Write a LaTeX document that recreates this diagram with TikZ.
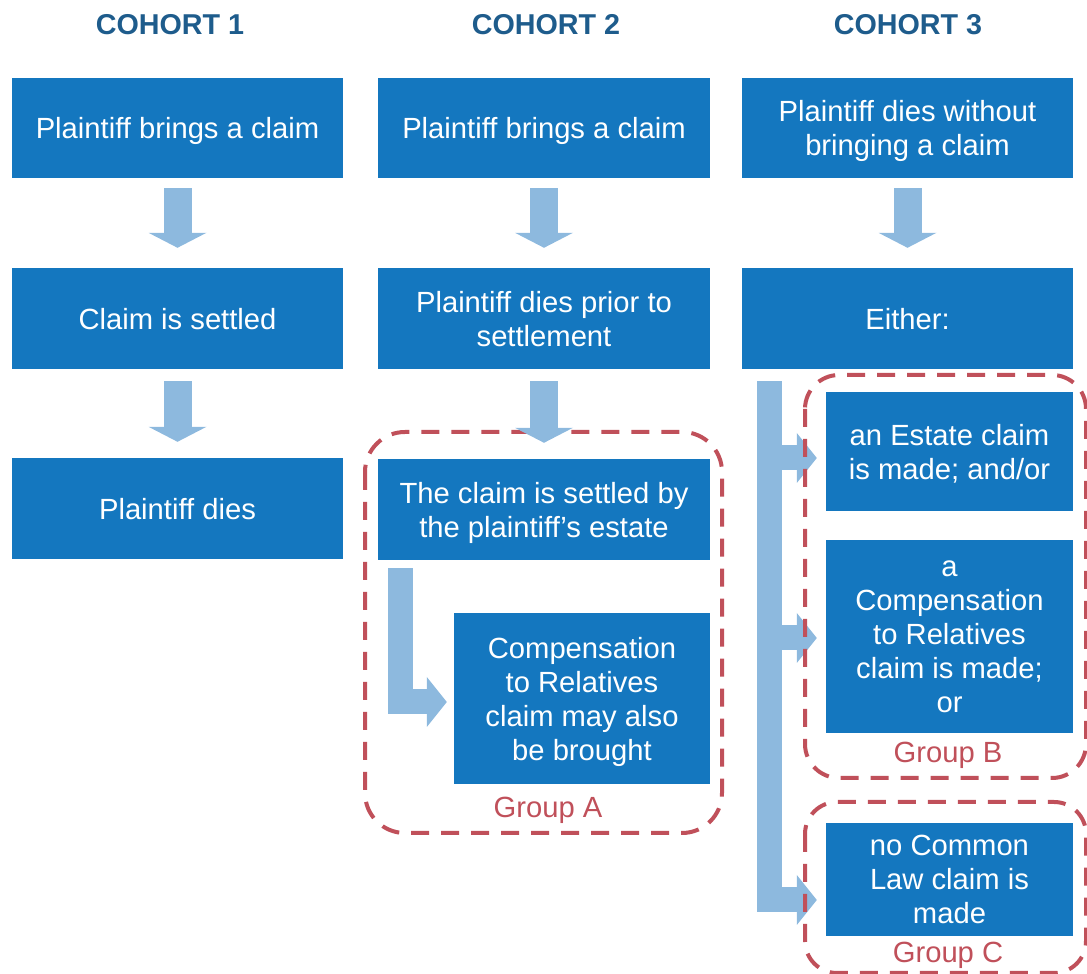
\documentclass[tikz,border=0pt]{standalone}
\usepackage{fontspec}
\setmainfont{Liberation Sans}
\usetikzlibrary{arrows.meta}
\definecolor{cellblue}{RGB}{20,119,191}
\definecolor{headblue}{RGB}{30,92,140}
\definecolor{flowblue}{RGB}{141,185,222}
\definecolor{groupred}{RGB}{192,80,90}
\begin{document}
\begin{tikzpicture}[line join=miter,
  cell/.style={fill=cellblue,text=white,align=center,inner sep=0pt,text depth=0pt,font=\fontsize{29.2bp}{34bp}\selectfont},
  head/.style={text=headblue,font=\bfseries\fontsize{28.7bp}{34bp}\selectfont},
  grouplabel/.style={text=groupred,font=\fontsize{29.2bp}{34bp}\selectfont},
  groupframe/.style={draw=groupred,line width=4bp,dash pattern=on 18bp off 12bp},
  downflow/.style={draw=flowblue,line width=28bp,-{Triangle[width=58bp,length=15bp,line width=0pt]}},
  sideflow/.style={draw=flowblue,line width=25bp,-{Triangle[width=50bp,length=20bp,line width=0pt]}}]
  \useasboundingbox (0bp,0bp) rectangle (1087bp,974bp);
%%
  % Node: cohort headings
  \node[head] (cohort1) at (170bp,949bp) {COHORT 1};
  \node[head] (cohort2) at (546bp,949bp) {COHORT 2};
  \node[head] (cohort3) at (908bp,949bp) {COHORT 3};
  % Node: c1brings
  \node[cell,minimum width=331bp,minimum height=100bp] (c1brings) at (177.5bp,846bp) {Plaintiff brings a claim};
  % Node: c1settled
  \node[cell,minimum width=331bp,minimum height=101bp] (c1settled) at (177.5bp,655.5bp) {Claim is settled};
  % Node: c1dies
  \node[cell,minimum width=331bp,minimum height=101bp] (c1dies) at (177.5bp,465.5bp) {Plaintiff dies};
  % Node: c2brings
  \node[cell,minimum width=332bp,minimum height=100bp] (c2brings) at (544bp,846bp) {Plaintiff brings a claim};
  % Node: c2dies
  \node[cell,minimum width=332bp,minimum height=101bp] (c2dies) at (544bp,655.5bp) {Plaintiff dies prior to\\settlement};
  % Node: c2estate
  \node[cell,minimum width=332bp,minimum height=101bp] (c2estate) at (544bp,464.5bp) {The claim is settled by\\the plaintiff's estate};
  % Node: c2relatives
  \node[cell,minimum width=256bp,minimum height=171bp] (c2relatives) at (582bp,275.5bp) {Compensation\\to Relatives\\claim may also\\be brought};
  % Node: c3dies
  \node[cell,minimum width=331bp,minimum height=100bp] (c3dies) at (907.5bp,846bp) {Plaintiff dies without\\bringing a claim};
  % Node: c3either
  \node[cell,minimum width=331bp,minimum height=101bp] (c3either) at (907.5bp,655.5bp) {Either:};
  % Node: c3estate
  \node[cell,minimum width=247bp,minimum height=119bp] (c3estate) at (949.5bp,522.5bp) {an Estate claim\\is made; and/or};
  % Node: c3relatives
  \node[cell,minimum width=247bp,minimum height=193bp] (c3relatives) at (949.5bp,337.5bp) {a\\Compensation\\to Relatives\\claim is made;\\or};
  % Node: c3common
  \node[cell,minimum width=247bp,minimum height=113bp] (c3common) at (949.5bp,94.5bp) {no Common\\Law claim is\\made};
  % Group A frame
  \draw[groupframe,rounded corners=40bp] (365bp,542bp) rectangle (722bp,141bp);
  % Edge: c1brings -> c1settled -> c1dies
  \draw[downflow] ([yshift=-10bp]c1brings.south) -- ([yshift=20bp]c1settled.north);
  \draw[downflow] ([yshift=-12bp]c1settled.south) -- ([yshift=16bp]c1dies.north);
  % Edge: c2brings -> c2dies -> c2estate
  \draw[downflow] ([yshift=-10bp]c2brings.south) -- ([yshift=20bp]c2dies.north);
  \draw[downflow] ([yshift=-12bp]c2dies.south) -- ([yshift=16bp]c2estate.north);
  % Edge: c2estate -> c2relatives
  \draw[sideflow] ([xshift=23bp,yshift=-8bp]c2estate.south west) |- ([xshift=-7bp,yshift=-3.5bp]c2relatives.west);
  % Edge: c3dies -> c3either
  \draw[downflow] ([yshift=-10bp]c3dies.south) -- ([yshift=20bp]c3either.north);
  % Edge: c3either -> c3estate, c3relatives, c3common
  \coordinate (trunk) at ([xshift=28bp,yshift=-12bp]c3either.south west);
  \coordinate (toestate) at ([xshift=-9bp,yshift=-6.5bp]c3estate.west);
  \coordinate (torelatives) at ([xshift=-9bp,yshift=-1.5bp]c3relatives.west);
  \draw[sideflow] (trunk) |- ([xshift=-9bp,yshift=-20.5bp]c3common.west);
  \draw[sideflow] (trunk |- toestate) -- (toestate);
  \draw[sideflow] (trunk |- torelatives) -- (torelatives);
  % Group B and C frames
  \draw[groupframe,rounded corners=34bp] (805bp,599bp) rectangle (1086bp,196bp);
  \draw[groupframe,rounded corners=32bp] (805bp,172bp) rectangle (1086bp,1bp);
  % Node: group labels
  \node[grouplabel] (groupA) at (548bp,164bp) {Group A};
  \node[grouplabel] (groupB) at (948bp,219bp) {Group B};
  \node[grouplabel] (groupC) at (948bp,19bp) {Group C};
%
\end{tikzpicture}
\end{document}
